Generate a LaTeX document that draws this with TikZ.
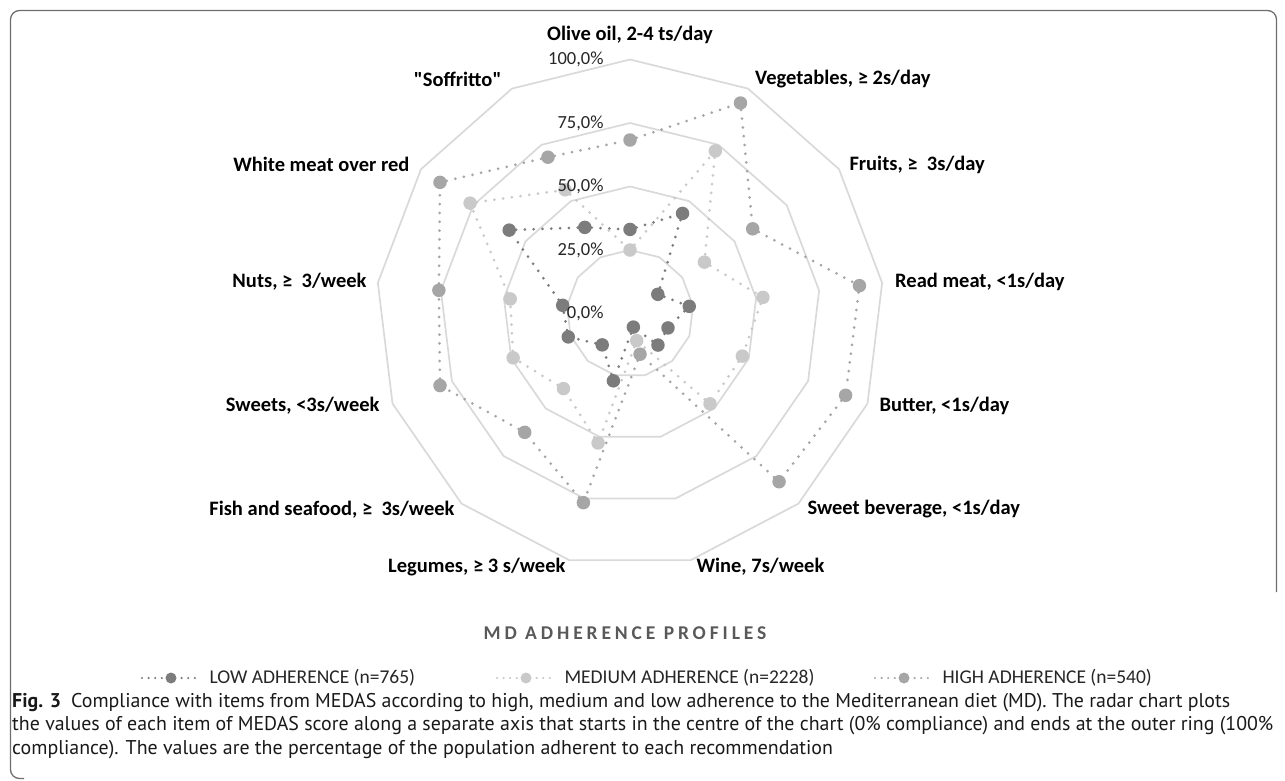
\documentclass[tikz,border=0pt]{standalone}
\usepackage{fontspec}
\setmainfont{Carlito}
\newfontfamily\spacedfont[LetterSpace=20]{Carlito}
\newfontfamily\straightfont[Ligatures=TeXOff]{Carlito}
\newfontfamily\capfont{PT Sans}
\usepackage{tikz}
\usetikzlibrary{positioning}

\definecolor{ringgray}{HTML}{D9D9D9}
\definecolor{lowgray}{HTML}{7C7C7C}
\definecolor{medgray}{HTML}{C9C9C9}
\definecolor{highgray}{HTML}{A6A6A6}
\definecolor{framegray}{HTML}{6E6E6E}
\definecolor{titlegray}{HTML}{595959}

\begin{document}
\begin{tikzpicture}[x=1pt, y=-1pt,
  ring/.style = {draw=ringgray, line width=1.7pt},
  series/.style = {line width=3pt, line cap=round, dash pattern=on 0pt off 8.8pt},
  legmark/.style = {line width=2.4pt, line cap=round, dash pattern=on 0pt off 6.6pt},
  dot/.style = {circle, inner sep=0pt, minimum size=13.5pt},
  cat/.style = {font=\straightfont\bfseries\fontsize{20.5}{24}\selectfont},
  pct/.style = {anchor=east, font=\fontsize{18.5}{22}\selectfont, text=black!85},
  legend/.style = {font=\fontsize{19.5}{23}\selectfont, text=black!85}]

\useasboundingbox (0,0) rectangle (1285,780);
\draw[framegray, line width=1.3pt, rounded corners=9pt]
  (1276.5,592) -- (1276.5,10.5) -- (10.5,10.5) -- (10.5,778.5) -- (24,778.5);

% rings and the three profiles, centre of the chart
\begin{scope}[shift={(630,313.5)}, yscale=-1]
\foreach \lv in {1,...,4}
  \draw[ring] (90:63.5*\lv) \foreach \k in {1,...,12} { -- ({90-\k*360/13}:63.5*\lv) } -- cycle;
\foreach \s/\col/\vals in {L/lowgray/{33.1,44.5,13.3,23.5,16,16.6,5.5,27.3,16.5,26,26.7,57.8,38.3},
                           M/medgray/{25,72.3,35.6,52.7,47.3,47.5,11,52.5,39.5,49.2,47.5,76.5,55},
                           H/highgray/{68.3,93.6,58.7,91,90.8,88.5,16.5,76.7,62.5,80,75.8,90.9,69.5}} {
  \foreach \v [count=\k from 0] in \vals
    \node[dot, fill=\col] (\s\k) at ({90-\k*360/13}:{2.54*\v}) {};
  \foreach \k [evaluate=\k as \n using {int(mod(\k+1,13))}] in {0,...,12}
    \draw[series, \col] (\s\k) -- (\s\n);
}
\end{scope}

% scale
\foreach \i in {0,...,4}
  \node[pct] (p\i) at (607,{313.5-63.5*\i}) {\the\numexpr25*\i\relax,0\%};

% items
\node[cat] (olive) at (630,35) {Olive oil, 2-4 ts/day};
\node[cat, anchor=west] (veg) at (751.7,79.5) {Vegetables, ≥ 2s/day};
\node[cat, anchor=west] (fruit) at (846,164.5) {Fruits, ≥ \ 3s/day};
\node[cat, anchor=west] (redmeat) at (891.7,281.5) {Read meat, <1s/day};
\node[cat, anchor=west] (butter) at (876,405.5) {Butter, <1s/day};
\node[cat, anchor=west] (bever) at (804,509.5) {Sweet beverage, <1s/day};
\node[cat, anchor=west] (wine) at (693,567) {Wine, 7s/week};
\node[cat, anchor=east] (legume) at (569,567) {Legumes, ≥ 3 s/week};
\node[cat, anchor=east] (fish) at (458,509.5) {Fish and seafood, ≥ \ 3s/week};
\node[cat, anchor=east] (sweets) at (383,405.5) {Sweets, <3s/week};
\node[cat, anchor=east] (nuts) at (370,281.5) {Nuts, ≥ \ 3/week};
\node[cat, anchor=east] (white) at (413,164.5) {White meat over red};
\node[cat, anchor=east] (soff) at (505,79.5) {"Soffritto"};

% legend
\node[font=\spacedfont\bfseries\fontsize{19.5}{23}\selectfont, text=titlegray] (title) at (625,633) {MD ADHERENCE PROFILES};
\foreach \s/\col/\x/\txt in {low/lowgray/142/{LOW ADHERENCE (n=765)},
                             med/medgray/497/{MEDIUM ADHERENCE (n=2228)},
                             high/highgray/875/{HIGH ADHERENCE (n=540)}} {
  \coordinate (\s-a) at (\x,678);
  \coordinate (\s-b) at (\x+58,678);
  \draw[legmark, \col] (\s-a) -- (\s-b);
  \node[dot, minimum size=11pt, fill=\col] (\s-m) at (\x+29,678) {};
  \node[legend, anchor=west, right=6pt of \s-b] (\s-t) {\txt};
}

% caption
\node[anchor=north west, align=left, inner sep=0pt, font=\capfont\fontsize{19.9}{23.5}\selectfont, text=black!90] (caption) at (12,693)
  {\textbf{Fig. 3}\hspace{0.5em}Compliance with items from MEDAS according to high, medium and low adherence to the Mediterranean diet (MD). The radar chart plots\\
   the values of each item of MEDAS score along a separate axis that starts in the centre of the chart (0\% compliance) and ends at the outer ring (100\%\\
   compliance). The values are the percentage of the population adherent to each recommendation};
\end{tikzpicture}
\end{document}
